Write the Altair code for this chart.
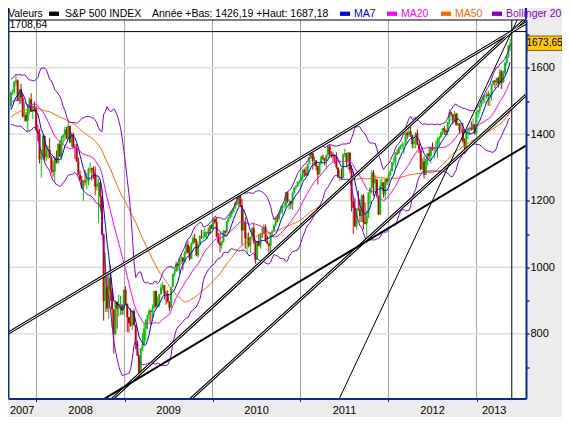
import altair as alt
import pandas as pd

# ---------------- data ----------------
first_week = "2006-10-09"  # Monday of the first weekly bar (warm-up bars feed the averages)

warmup_closes = [
    1365.6, 1368.6, 1377.3, 1364.3, 1380.9, 1401.2, 1400.9, 1396.7, 1409.8, 1427.1, 1410.8, 1418.3,
    1409.7, 1430.7, 1430.5, 1422.2, 1448.4, 1438.1, 1455.5, 1451.2, 1387.2, 1402.8, 1386.9, 1436.1, 1420.9,
    1443.8, 1452.9, 1484.4, 1494.1, 1505.6, 1505.9, 1522.8, 1515.7, 1536.3, 1507.7, 1532.9, 1502.6, 1503.4,
    1530.4, 1552.5, 1534.1, 1458.9, 1433.1, 1453.6, 1445.9, 1479.4, 1474.0, 1453.6, 1484.3,
]

closes = [
    # 2007
    1525.8, 1526.8, 1557.6, 1561.8, 1500.6, 1535.3, 1509.7, 1453.7, 1458.7, 1440.7, 1481.1, 1504.7, 1468.0, 1484.5, 1478.5,
    # 2008
    1411.6, 1401.0, 1325.2, 1330.6, 1395.4, 1331.3, 1350.0, 1353.1, 1330.6, 1293.4, 1288.1, 1329.5, 1315.2, 1370.4,
    1332.8, 1390.3, 1397.8, 1413.9, 1388.3, 1425.4, 1375.9, 1400.4, 1360.7, 1360.0, 1317.9, 1278.4, 1262.9, 1239.5,
    1260.7, 1257.8, 1260.3, 1296.3, 1298.2, 1292.2, 1282.8, 1242.3, 1251.7, 1255.1, 1213.3, 1099.2, 899.2, 940.6,
    876.8, 968.8, 931.0, 873.3, 800.0, 896.2, 876.1, 879.7, 887.9, 872.8,
    # 2009
    931.8, 890.4, 850.1, 832.0, 825.9, 868.6, 826.8, 770.1, 735.1, 683.4, 756.6, 768.5, 815.9, 842.5, 856.6, 869.6,
    866.2, 877.5, 929.2, 882.9, 887.0, 919.1, 940.1, 946.2, 921.2, 918.9, 896.4, 879.1, 940.4, 979.3, 987.5, 1010.5,
    1004.1, 1026.1, 1028.9, 1016.4, 1042.7, 1068.3, 1044.4, 1025.2, 1071.5, 1087.7, 1079.6, 1036.2, 1069.3, 1093.5,
    1091.4, 1091.5, 1106.0, 1106.4, 1102.5, 1126.5, 1115.1,
    # 2010
    1145.0, 1136.0, 1091.8, 1073.9, 1066.2, 1075.5, 1109.2, 1104.5, 1138.7, 1150.0, 1159.9, 1166.6, 1178.1, 1194.4,
    1192.1, 1217.3, 1186.7, 1110.9, 1135.7, 1087.7, 1089.4, 1064.9, 1091.6, 1117.5, 1076.8, 1022.6, 1078.0, 1064.9,
    1102.7, 1101.6, 1121.6, 1079.3, 1071.7, 1064.6, 1104.5, 1109.6, 1125.6, 1148.7, 1146.2, 1165.2, 1176.2, 1183.1,
    1183.3, 1225.9, 1199.2, 1199.7, 1189.4, 1224.7, 1240.4, 1243.9, 1256.8, 1257.6,
    # 2011
    1271.5, 1293.2, 1283.4, 1276.3, 1310.9, 1329.2, 1343.0, 1319.9, 1321.2, 1304.3, 1279.2, 1313.8, 1332.4, 1328.2,
    1319.7, 1337.4, 1363.6, 1340.2, 1337.8, 1333.3, 1331.1, 1300.2, 1271.0, 1271.5, 1268.5, 1339.7, 1343.8, 1316.1,
    1345.0, 1292.3, 1199.4, 1178.8, 1123.5, 1176.8, 1174.0, 1154.2, 1216.0, 1136.4, 1131.4, 1155.5, 1224.6, 1238.3,
    1285.1, 1253.2, 1263.9, 1215.7, 1158.7, 1244.3, 1255.2, 1219.7, 1265.3, 1257.6,
    # 2012
    1277.8, 1289.1, 1315.4, 1316.3, 1344.9, 1342.6, 1361.2, 1365.7, 1369.6, 1370.9, 1404.2, 1397.1, 1408.5, 1398.1,
    1370.3, 1378.5, 1403.4, 1369.1, 1353.4, 1295.2, 1317.8, 1278.0, 1325.7, 1342.8, 1335.0, 1362.2, 1354.7, 1356.8,
    1362.7, 1386.0, 1391.0, 1405.9, 1418.2, 1411.1, 1406.6, 1437.9, 1465.8, 1460.2, 1440.7, 1460.9, 1428.6, 1433.2,
    1411.9, 1414.2, 1379.9, 1359.9, 1409.2, 1416.2, 1418.1, 1413.6, 1430.2, 1402.4,
    # 2013
    1466.5, 1472.1, 1486.0, 1503.0, 1513.2, 1517.9, 1519.8, 1515.6, 1518.2, 1551.2, 1560.7, 1556.9, 1569.2, 1553.3,
    1588.9, 1555.3, 1582.2, 1614.4, 1633.7, 1667.5, 1673.65,
]

highs = [
    1530, 1535, 1561, 1576, 1565, 1536, 1552, 1521, 1493, 1467, 1488, 1510, 1523, 1486, 1498,
    1482, 1429, 1416, 1355, 1396, 1396, 1368, 1367, 1389, 1335, 1321, 1334, 1351, 1374, 1381, 1395, 1400, 1422,
    1422, 1440, 1426, 1406, 1406, 1370, 1371, 1330, 1291, 1275, 1262, 1292, 1284, 1300, 1314, 1300, 1304, 1303,
    1274, 1266, 1255, 1214, 1099, 1044, 985, 984, 1007, 937, 874, 897, 897, 918, 914, 888,
    934, 943, 891, 851, 877, 870, 875, 827, 780, 735, 758, 804, 832, 845, 857, 876, 871, 888, 930, 930, 912, 920,
    951, 956, 946, 929, 931, 898, 941, 980, 996, 1018, 1013, 1027, 1039, 1031, 1048, 1074, 1080, 1063, 1076, 1096,
    1101, 1085, 1072, 1097, 1113, 1111, 1120, 1107, 1119, 1127, 1130,
    1146, 1150, 1150, 1104, 1104, 1080, 1112, 1113, 1140, 1151, 1170, 1174, 1181, 1195, 1214, 1218, 1220, 1205,
    1174, 1150, 1104, 1105, 1092, 1120, 1131, 1078, 1079, 1100, 1103, 1120, 1130, 1129, 1095, 1074, 1105, 1111,
    1131, 1149, 1159, 1167, 1184, 1190, 1196, 1227, 1227, 1205, 1200, 1225, 1241, 1247, 1259, 1263,
    1278, 1294, 1297, 1303, 1311, 1330, 1344, 1343, 1333, 1322, 1305, 1314, 1337, 1339, 1329, 1339, 1364, 1370,
    1349, 1346, 1338, 1346, 1300, 1292, 1298, 1341, 1356, 1344, 1347, 1345, 1307, 1200, 1208, 1177, 1230, 1204,
    1220, 1220, 1195, 1171, 1225, 1240, 1293, 1292, 1277, 1266, 1216, 1264, 1267, 1256, 1266, 1269,
    1285, 1296, 1316, 1333, 1345, 1354, 1363, 1368, 1378, 1374, 1406, 1410, 1419, 1422, 1398, 1392, 1406, 1415,
    1374, 1354, 1328, 1334, 1326, 1344, 1363, 1363, 1375, 1358, 1380, 1390, 1395, 1407, 1418, 1426, 1414, 1438,
    1475, 1467, 1461, 1470, 1465, 1464, 1434, 1434, 1434, 1388, 1410, 1420, 1423, 1439, 1448, 1431,
    1467, 1473, 1486, 1503, 1514, 1518, 1525, 1531, 1525, 1552, 1564, 1563, 1570, 1574, 1597, 1593, 1592, 1618,
    1636, 1668, 1687.18,
]

lows = [
    1477, 1518, 1521, 1546, 1500, 1490, 1492, 1450, 1439, 1437, 1406, 1460, 1467, 1445, 1468,
    1411, 1380, 1312, 1270, 1322, 1316, 1320, 1326, 1329, 1284, 1272, 1257, 1312, 1310, 1332, 1324, 1370, 1380,
    1385, 1384, 1373, 1362, 1359, 1326, 1317, 1278, 1260, 1236, 1200, 1248, 1234, 1247, 1284, 1261, 1266, 1217,
    1230, 1133, 1180, 1097, 840, 866, 866, 845, 899, 819, 741, 797, 815, 852, 857, 857,
    857, 888, 805, 804, 821, 812, 823, 754, 734, 666, 672, 748, 768, 779, 814, 836, 826, 847, 876, 878, 878, 881,
    919, 930, 903, 888, 895, 869, 875, 940, 972, 987, 990, 978, 1009, 991, 1016, 1039, 1041, 1020, 1025, 1068,
    1073, 1033, 1029, 1069, 1086, 1083, 1086, 1085, 1095, 1100, 1115,
    1115, 1131, 1090, 1071, 1045, 1056, 1075, 1093, 1104, 1135, 1146, 1152, 1165, 1176, 1186, 1183, 1182, 1066,
    1111, 1056, 1040, 1060, 1043, 1087, 1071, 1011, 1022, 1062, 1056, 1088, 1101, 1076, 1070, 1040, 1047, 1092,
    1110, 1122, 1135, 1138, 1159, 1159, 1177, 1179, 1194, 1173, 1176, 1173, 1220, 1233, 1241, 1250,
    1256, 1262, 1272, 1275, 1276, 1311, 1326, 1294, 1303, 1291, 1249, 1279, 1307, 1322, 1307, 1295, 1331, 1329,
    1329, 1318, 1311, 1296, 1268, 1259, 1262, 1268, 1331, 1303, 1295, 1283, 1168, 1101, 1121, 1114, 1170, 1136,
    1136, 1114, 1129, 1075, 1148, 1191, 1221, 1215, 1226, 1209, 1158, 1158, 1231, 1209, 1203, 1248,
    1258, 1275, 1290, 1306, 1300, 1337, 1340, 1354, 1354, 1340, 1366, 1386, 1391, 1392, 1357, 1358, 1358, 1367,
    1343, 1291, 1292, 1267, 1278, 1306, 1324, 1313, 1351, 1325, 1345, 1329, 1366, 1390, 1397, 1398, 1397, 1397,
    1429, 1454, 1430, 1437, 1425, 1425, 1403, 1406, 1373, 1343, 1359, 1386, 1398, 1411, 1413, 1398,
    1398, 1451, 1461, 1482, 1492, 1495, 1508, 1485, 1485, 1501, 1547, 1538, 1546, 1540, 1548, 1536, 1555, 1577,
    1607, 1629, 1650,
]

level_value = [1708.64]
marker_date = ["2013-05-27"]
grid_years = [2008, 2009, 2010, 2011, 2012, 2013]
label_years = [2007, 2008, 2009, 2010, 2011, 2012, 2013]
y_grid = [800, 1000, 1200, 1400, 1600]
y_ticks = [700, 800, 900, 1000, 1100, 1200, 1300, 1400, 1500, 1600, 1700]
series_name = ["S&P 500 INDEX"]
header_stats = ["Année +Bas: 1426,19 +Haut: 1687,18"]
legend_names = ["MA7", "MA20", "MA50", "Bollinger 20"]

# trend lines: two points read on each line
trend_a = [("2007-08-16", 793.0), ("2009-02-22", 672.8), ("2009-10-08", 608.0),
           ("2008-10-20", 609.6), ("2011-06-14", 609.6)]
trend_b = [("2013-05-27", 1708.64), ("2013-05-27", 1708.64), ("2013-07-25", 1517.9),
           ("2013-07-21", 1364.5), ("2013-05-27", 1708.64)]
trend_kind = ["double", "double", "double", "thick", "thin"]

# ---------------- styling / layout ----------------
FONT = "Liberation Sans"
NAVY = "#0B2C8C"
GREEN = "#00C800"
RED = "#CC0000"
C_MA7, C_MA20, C_MA50, C_BOLL = "#0000FF", "#FF00FF", "#FF6600", "#8800CC"
W, H = 518, 379
PT, PB, PR = 11.5, 18.5, 36
X_DOMAIN = ["2007-09-05", "2013-07-25"]
Y_DOMAIN = [605.7, 1745.0]


def ms(d):
    return int(pd.Timestamp(d).value // 10**6)


XSCALE = alt.Scale(domain=[ms(d) for d in X_DOMAIN], nice=False)
YSCALE = alt.Scale(domain=Y_DOMAIN, nice=False, zero=False)
XAXIS = alt.Axis(values=[ms(f"{y}-01-01") for y in grid_years], labels=False, ticks=True, tickSize=3,
                 tickColor=NAVY, tickWidth=1, domain=True, domainColor=NAVY, domainWidth=2,
                 grid=False, title=None, zindex=1)
YAXIS = alt.Axis(orient="right", values=y_ticks, format="d",
                 labelExpr="datum.value % 200 == 0 ? datum.label : ''",
                 tickSize=3, tickColor=NAVY, tickWidth=1.5, domainColor=NAVY, domainWidth=2,
                 labelFont=FONT, labelFontSize=11, labelColor="black", labelPadding=1,
                 labelOverlap=False, labelFlush=False, grid=False, title=None, zindex=1)


def X(field):
    return alt.X(field, type="temporal", scale=XSCALE, axis=XAXIS)


def Y(field):
    return alt.Y(field, type="quantitative", scale=YSCALE, axis=YAXIS)


# ---------------- tables ----------------
n_warm = len(warmup_closes)
all_closes = warmup_closes + closes
dates = pd.date_range(first_week, periods=len(all_closes), freq="7D")
df = pd.DataFrame({
    "date": dates.strftime("%Y-%m-%d"),
    "close": all_closes,
    "high": [None] * n_warm + highs,
    "low": [None] * n_warm + lows,
})
df["open"] = df["close"].shift(1)

srt = [{"field": "date"}]
base = (
    alt.Chart(df)
    .transform_window(window=[{"op": "mean", "field": "close", "as": "ma7"}], frame=[-6, 0], sort=srt)
    .transform_window(window=[{"op": "mean", "field": "close", "as": "ma20"},
                              {"op": "stdevp", "field": "close", "as": "sd20"}], frame=[-19, 0], sort=srt)
    .transform_window(window=[{"op": "mean", "field": "close", "as": "ma50"}], frame=[-49, 0], sort=srt)
    .transform_calculate(bb_up="datum.ma20 + 2 * datum.sd20", bb_lo="datum.ma20 - 2 * datum.sd20")
    .transform_filter("isValid(datum.high)")
)

# trend lines extended across the whole x domain (clipped to the plot)
d0, d1 = pd.Timestamp(X_DOMAIN[0]), pd.Timestamp(X_DOMAIN[1])
rows = []
for i, (a, b, kind) in enumerate(zip(trend_a, trend_b, trend_kind)):
    ta, tb = pd.Timestamp(a[0]), pd.Timestamp(b[0])
    k = (b[1] - a[1]) / (tb - ta).total_seconds()
    for t in (d0, d1):
        rows.append({"id": i, "kind": kind, "d": ms(t), "v": a[1] + k * (t - ta).total_seconds()})
tl = pd.DataFrame(rows)

one = pd.DataFrame({"k": [0]})
vgrid = pd.DataFrame({"d": [ms(f"{y}-01-01") for y in grid_years]})
hgrid = pd.DataFrame({"v": y_grid})
lvl = pd.DataFrame({"v": level_value, "t": [f"{v:.2f}".replace(".", ",") for v in level_value]})
mark_df = pd.DataFrame({"d": [ms(d) for d in marker_date]})
last_close = closes[-1]
last_df = pd.DataFrame({"v": [last_close], "t": [f"{last_close:.2f}".replace(".", ",")]})

ylab = []
for y in label_years:
    a = max(pd.Timestamp(f"{y}-01-01"), d0)
    b = min(pd.Timestamp(f"{y + 1}-01-01"), pd.Timestamp(marker_date[0]))
    ylab.append({"d": ms(a + (b - a) / 2), "t": str(y)})
ylab = pd.DataFrame(ylab)

# ---------------- layers ----------------
layers = []
layers.append(alt.Chart(vgrid).mark_rule(color="#A0A0A0", strokeWidth=1).encode(x=X("d")))
layers.append(alt.Chart(hgrid).mark_rule(color="#DEDEDE", strokeWidth=1.5).encode(y=Y("v")))
layers.append(alt.Chart(lvl).mark_rule(color="black", strokeWidth=1).encode(y=Y("v")))
layers.append(alt.Chart(mark_df).mark_rule(color="black", strokeWidth=1).encode(x=X("d")))

col = alt.condition("datum.close >= datum.open", alt.value(GREEN), alt.value(RED))
layers.append(base.mark_rule(strokeWidth=1).encode(x=X("date"), y=Y("low"), y2="high", color=col))
layers.append(base.mark_rule(strokeWidth=2).encode(x=X("date"), y=Y("open"), y2="close", color=col))

layers.append(base.mark_line(color=C_MA50, strokeWidth=1).encode(x=X("date"), y=Y("ma50")))
layers.append(base.mark_line(color=C_MA20, strokeWidth=1).encode(x=X("date"), y=Y("ma20")))
layers.append(base.mark_line(color=C_BOLL, strokeWidth=1).encode(x=X("date"), y=Y("bb_up")))
layers.append(base.mark_line(color=C_BOLL, strokeWidth=1).encode(x=X("date"), y=Y("bb_lo")))
layers.append(base.mark_line(color=C_MA7, strokeWidth=1).encode(x=X("date"), y=Y("ma7")))

dbl = tl[tl.kind == "double"]
layers.append(alt.Chart(dbl).mark_line(color="black", strokeWidth=3, clip=True)
              .encode(x=X("d"), y=Y("v"), detail="id:N"))
layers.append(alt.Chart(dbl).mark_line(color="white", strokeWidth=1, clip=True)
              .encode(x=X("d"), y=Y("v"), detail="id:N"))
layers.append(alt.Chart(tl[tl.kind == "thick"]).mark_line(color="black", strokeWidth=2, clip=True)
              .encode(x=X("d"), y=Y("v"), detail="id:N"))
layers.append(alt.Chart(tl[tl.kind == "thin"]).mark_line(color="black", strokeWidth=1, clip=True)
              .encode(x=X("d"), y=Y("v"), detail="id:N"))

# level label
layers.append(alt.Chart(lvl).mark_text(align="left", baseline="middle", dy=-6.5, font=FONT,
                                       fontSize=10.5, color="black")
              .encode(x=alt.value(1.5), y=Y("v"), text="t:N"))

# header band
layers.append(alt.Chart(one).mark_rect(fill="white")
              .encode(x=alt.value(0), x2=alt.value(W), y=alt.value(-PT), y2=alt.value(0)))
layers.append(alt.Chart(one).mark_rule(color="black", strokeWidth=1)
              .encode(x=alt.value(0), x2=alt.value(W), y=alt.value(0.5)))
layers.append(alt.Chart(one).mark_rule(color=NAVY, strokeWidth=1.5)
              .encode(x=alt.value(0.75), y=alt.value(-PT), y2=alt.value(H)))
layers.append(alt.Chart(one).mark_rule(color=NAVY, strokeWidth=2)
              .encode(x=alt.value(W), y=alt.value(-PT), y2=alt.value(0)))

header_items = [("Valeurs", 0, "black"), (series_name[0], 57, "black"), (header_stats[0], 144, "black")]
legend_x = [346, 393, 447, 498]
legend_cols = [C_MA7, C_MA20, C_MA50, C_BOLL]
for name, px, c in zip(legend_names, legend_x, legend_cols):
    header_items.append((name, px, c))
for txt, px, c in header_items:
    layers.append(alt.Chart(one).mark_text(text=txt, font=FONT, fontSize=10.5, align="left",
                                           baseline="alphabetic", color=c)
                  .encode(x=alt.value(px), y=alt.value(-2.3)))
squares = [(41, "black")] + [(px - 14, c) for px, c in zip(legend_x, legend_cols)]
for px, c in squares:
    layers.append(alt.Chart(one).mark_rect(color=c)
                  .encode(x=alt.value(px), x2=alt.value(px + 10), y=alt.value(-7.9), y2=alt.value(-3.6)))

# last value box on the right axis
box_w = 35.0
box_path = "M-1,-0.414L1,-0.414L1,0.414L-1,0.414Z"
box_x = W + 1 + box_w / 2
layers.append(alt.Chart(last_df).mark_point(shape=box_path, size=box_w ** 2, filled=True, fill="#FFC800",
                                            stroke="#5A4A00", strokeWidth=0.8, opacity=1)
              .encode(x=alt.value(box_x), y=Y("v")))
layers.append(alt.Chart(last_df).mark_text(font=FONT, fontSize=10, align="center", baseline="middle",
                                           color="black")
              .encode(x=alt.value(box_x), y=Y("v"), text="t:N"))

# year labels under the axis
layers.append(alt.Chart(ylab).mark_text(font=FONT, fontSize=11, align="center", baseline="middle",
                                        color="black")
              .encode(x=X("d"), y=alt.value(H + 12), text="t:N"))

chart = (
    alt.layer(*layers)
    .properties(width=W, height=H,
                padding={"left": 0, "top": PT, "right": PR, "bottom": PB},
                autosize=alt.AutoSizeParams(type="none"),
                background="#ECECEC")
    .configure_view(stroke=None, fill="white")
)

chart.save("out.html", embed_options={"renderer": "svg", "actions": False})
